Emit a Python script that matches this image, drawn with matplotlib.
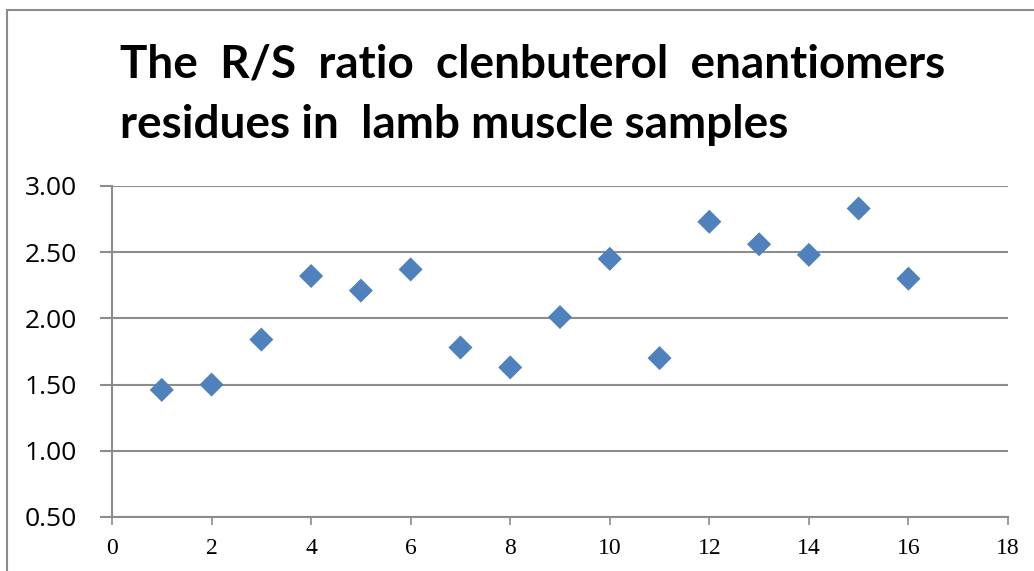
import matplotlib.pyplot as plt
from matplotlib.patches import Rectangle

# R/S ratio per lamb muscle sample
sample_no = [1, 2, 3, 4, 5, 6, 7, 8, 9, 10, 11, 12, 13, 14, 15, 16]
rs_ratio = [1.46, 1.50, 1.84, 2.32, 2.21, 2.37, 1.78, 1.63,
            2.01, 2.45, 1.70, 2.73, 2.56, 2.48, 2.83, 2.30]

x_ticks = [0, 2, 4, 6, 8, 10, 12, 14, 16, 18]
y_ticks = [0.5, 1.0, 1.5, 2.0, 2.5, 3.0]

W, H = 1034, 571
fig = plt.figure(figsize=(W / 100, H / 100), dpi=100)

# chart frame (only the top and left edges fall inside the image)
fig.patches.append(Rectangle((7 / W, -0.1), 1.2, 1 - 10 / H + 0.1,
                             transform=fig.transFigure, fill=False,
                             edgecolor='#8c8c8c', linewidth=1.5))

ax = fig.add_axes([112 / W, 1 - 517 / H, (1008 - 112) / W, (517 - 186) / H])
ax.scatter(sample_no, rs_ratio, marker='D', s=150, color='#4f81bd',
           edgecolors='none', zorder=3)

ax.set_xlim(0, 18)
ax.set_ylim(0.5, 3.0)
ax.set_xticks(x_ticks)
ax.set_yticks(y_ticks)
ax.set_yticklabels([f'{v:.2f}' for v in y_ticks],
                   fontsize=19, fontfamily='Open Sans')
ax.set_xticklabels([str(v) for v in x_ticks],
                   fontsize=17, fontfamily='Liberation Serif')

ax.grid(axis='y', color='#8c8c8c', linewidth=1.5)
ax.set_axisbelow(True)
for side in ('top', 'right'):
    ax.spines[side].set_visible(False)
for side in ('left', 'bottom'):
    ax.spines[side].set_color('#8c8c8c')
    ax.spines[side].set_linewidth(1.5)
ax.tick_params(axis='y', length=9, width=1.5, color='#8c8c8c', pad=16)
ax.tick_params(axis='x', length=6, width=1.2, color='#8c8c8c', pad=9)

fig.text(120 / W, 1 - 43 / H,
         'The  R/S  ratio  clenbuterol  enantiomers\nresidues in  lamb muscle samples',
         fontsize=33, fontweight='bold', fontfamily='Lato',
         ha='left', va='top', linespacing=1.55)

fig.savefig('out.png', dpi=100)
